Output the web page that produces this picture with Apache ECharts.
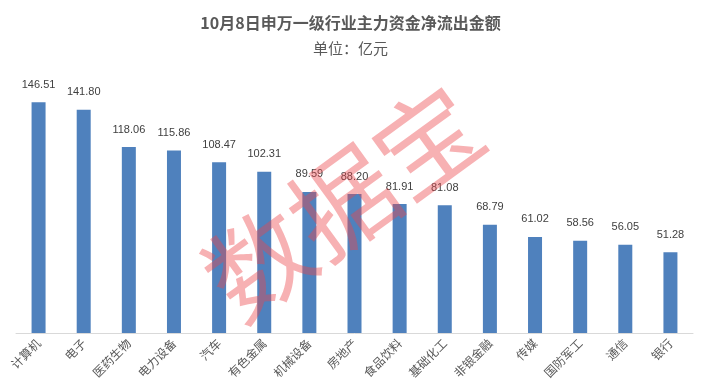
<!DOCTYPE html>
<html><head><meta charset="utf-8">
<script src="https://cdn.jsdelivr.net/npm/echarts@6/dist/echarts.min.js"></script>
<style>html,body{margin:0;padding:0;background:#fff}#c{width:701px;height:389px}</style>
</head><body><div id="c"></div>
<script>
const categories = ["计算机","电子","医药生物","电力设备","汽车","有色金属","机械设备","房地产","食品饮料","基础化工","非银金融","传媒","国防军工","通信","银行"];
const values = [146.51,141.80,118.06,115.86,108.47,102.31,89.59,88.20,81.91,81.08,68.79,61.02,58.56,56.05,51.28];
const titleText = "10月8日申万一级行业主力资金净流出金额";
const subtitleText = "单位：亿元";
const watermarkText = "数据宝";

const chart = echarts.init(document.getElementById('c'));
chart.setOption({
  animation: false,
  title: {
    text: titleText, subtext: subtitleText, left: 'center', top: 10, itemGap: 10,
    textStyle: {fontSize: 16, fontWeight: 'bold', color: '#595959', fontFamily: 'Noto Sans CJK SC'},
    subtextStyle: {fontSize: 15, color: '#595959', fontFamily: 'Noto Sans CJK SC'}
  },
  grid: {left: 16, right: 8, top: 81, bottom: 56},
  xAxis: {
    type: 'category', data: categories,
    axisLine: {lineStyle: {color: '#d9d9d9'}},
    axisTick: {show: false},
    axisLabel: {rotate: 45, interval: 0, fontSize: 12, color: '#595959', fontFamily: 'Noto Sans CJK SC', margin: 8}
  },
  yAxis: {type: 'value', min: 0, max: 160, show: false, splitLine: {show: false}},
  series: [{
    type: 'bar', data: values, barWidth: 14,
    itemStyle: {color: '#4f81bd'},
    label: {show: true, position: 'top', distance: 12, fontSize: 11, color: '#404040', fontFamily: 'Liberation Sans', formatter: p => p.value.toFixed(2)}
  }],
  graphic: [{
    type: 'text', x: 343, y: 202, rotation: 36 * Math.PI / 180, z: 100,
    style: {text: watermarkText, fontSize: 104, fontFamily: 'Noto Sans CJK SC', fontWeight: 'normal',
      fill: 'rgba(235,70,75,0.42)', align: 'center', verticalAlign: 'middle', letterSpacing: 4}
  }]
});
</script></body></html>
